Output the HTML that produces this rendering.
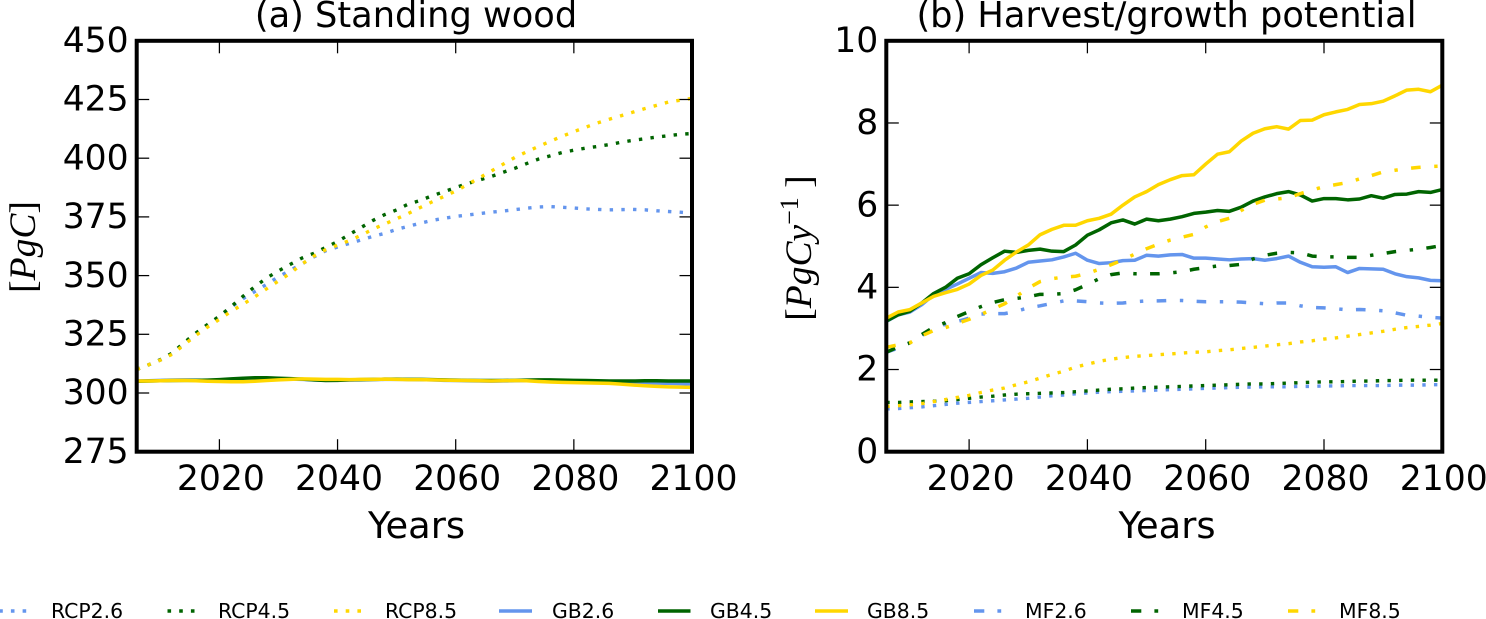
<!DOCTYPE html>
<html lang="en">
<head>
<meta charset="utf-8">
<title>Standing wood and harvest potential</title>
<style>
html,body{margin:0;padding:0;background:#fff;width:1486px;height:619px;overflow:hidden}
svg{display:block}
text{font-family:"DejaVu Sans","Liberation Sans",sans-serif;fill:#000}
.big{font-size:34.6px}
.ttl{font-size:35.2px}
.xlab{font-size:36.8px}
.leg{font-size:20.4px}
.math{font-family:"Liberation Serif",serif;font-size:37.5px}
.math .i{font-style:italic}
</style>
</head>
<body>
<svg id="chart" xmlns="http://www.w3.org/2000/svg" width="1486" height="619" viewBox="0 0 1486 619">
  <defs>
    <clipPath id="clip-a"><rect x="136.7" y="40.8" width="555.3" height="410.9"/></clipPath>
    <clipPath id="clip-b"><rect x="886.3" y="40.8" width="556" height="410.9"/></clipPath>
  </defs>
  <g id="panel-a">
    <g id="marks-a" clip-path="url(#clip-a)"></g>
    <g id="axes-a"></g>
    <text class="ttl" x="416" y="27" text-anchor="middle">(a) Standing wood</text>
    <text class="xlab" x="416.5" y="538" text-anchor="middle">Years</text>
    <text class="math" transform="translate(35,247) rotate(-90)" text-anchor="middle">[<tspan class="i">PgC</tspan>]</text>
  </g>
  <g id="panel-b">
    <g id="marks-b" clip-path="url(#clip-b)"></g>
    <g id="axes-b"></g>
    <text class="ttl" x="1166.5" y="27" text-anchor="middle">(b) Harvest/growth potential</text>
    <text class="xlab" x="1167" y="538" text-anchor="middle">Years</text>
    <text class="math" transform="translate(811,248) rotate(-90)" text-anchor="middle">[<tspan class="i">PgCy</tspan><tspan dy="-13" font-size="26">−1</tspan><tspan dy="13"> ]</tspan></text>
  </g>
  <g id="legend">
    <g><line x1="-0.8" x2="27" y1="611" y2="611" stroke="#6495ED" stroke-width="3.6" stroke-dasharray="3.6 8.1"/><text class="leg" x="51" y="618">RCP2.6</text></g>
    <g><line x1="167.5" x2="195" y1="611" y2="611" stroke="#006400" stroke-width="3.6" stroke-dasharray="3.6 8.1"/><text class="leg" x="218" y="618">RCP4.5</text></g>
    <g><line x1="334" x2="362" y1="611" y2="611" stroke="#FFD700" stroke-width="3.6" stroke-dasharray="3.6 8.1"/><text class="leg" x="385" y="618">RCP8.5</text></g>
    <g><line x1="499" x2="532" y1="611" y2="611" stroke="#6495ED" stroke-width="3.6"/><text class="leg" x="552" y="618">GB2.6</text></g>
    <g><line x1="658" x2="690.5" y1="611" y2="611" stroke="#006400" stroke-width="3.6"/><text class="leg" x="710" y="618">GB4.5</text></g>
    <g><line x1="815" x2="848" y1="611" y2="611" stroke="#FFD700" stroke-width="3.6"/><text class="leg" x="867" y="618">GB8.5</text></g>
    <g><line x1="974" x2="1001.2" y1="611" y2="611" stroke="#6495ED" stroke-width="3.6" stroke-dasharray="10.3 13.1 3.8 13"/><text class="leg" x="1025" y="618">MF2.6</text></g>
    <g><line x1="1131" x2="1158.2" y1="611" y2="611" stroke="#006400" stroke-width="3.6" stroke-dasharray="10.3 13.1 3.8 13"/><text class="leg" x="1182" y="618">MF4.5</text></g>
    <g><line x1="1288" x2="1315.2" y1="611" y2="611" stroke="#FFD700" stroke-width="3.6" stroke-dasharray="10.3 13.1 3.8 13"/><text class="leg" x="1339" y="618">MF8.5</text></g>
  </g>
</svg>
<script>
const years = [2006,2008,2010,2012,2014,2016,2018,2020,2022,2024,2026,2028,2030,2032,2034,2036,2038,2040,2042,2044,2046,2048,2050,2052,2054,2056,2058,2060,2062,2064,2066,2068,2070,2072,2074,2076,2078,2080,2082,2084,2086,2088,2090,2092,2094,2096,2098,2100];
const xTickLabels = [2020,2040,2060,2080,2100];
const yTicksA = [275,300,325,350,375,400,425,450];
const yTicksB = [0,2,4,6,8,10];

const woodRcp26 = [310,312,314,316.8,321,325,328.8,332.5,336.6,340.2,343.2,346.3,349.5,352.3,355,358,360.6,362.2,363.7,365.2,366.7,368,369.7,371,372.3,373.5,374.4,375.2,375.8,376.4,377,377.5,378.1,378.7,379.2,379.4,379.1,378.8,378.4,378.2,378,378.1,378.2,378,377.6,377.3,377,376.6];
const woodRcp45 = [310,312,314.2,317,321.4,325.5,329.2,332.7,336.8,341.2,345.3,349,352,354.8,357.5,359.5,362,364.5,367.5,370.5,373.5,376,378,380.5,382,384,385.7,387.5,389.2,390.7,392.2,394,395.7,397.7,399.6,401,402.4,403.4,404.3,405,405.8,406.8,407.6,408.3,409,409.6,410.2,410.5];
const woodRcp85 = [310,312,314,316.5,320.5,324.5,328.1,331.4,334.8,337.8,341,344.4,347.7,351,355,358.3,361,363,364.9,367.2,369.8,372,374.2,376.5,379,381.4,383.7,386,388.8,391.6,394.5,397.4,400.3,402.7,405,407.2,409.3,411.3,413.2,415,416.6,418.1,419.6,421.1,422.5,423.9,424.7,425.5];
const woodGb26 = [305.1,305.2,305.4,305.5,305.6,305.5,305.4,305.4,305.4,305.5,305.6,305.7,305.8,305.9,305.8,305.6,305.5,305.5,305.5,305.6,305.7,305.8,305.8,305.8,305.7,305.6,305.4,305.3,305.2,305.1,305,305.1,305.2,305.2,305.2,305,304.9,304.7,304.6,304.5,304.4,304.3,304.3,304.2,304.2,304.1,304,303.9];
const woodGb45 = [305,305.1,305.2,305.3,305.4,305.4,305.5,305.7,306,306.3,306.5,306.5,306.3,306.1,305.9,305.6,305.3,305.4,305.6,305.7,305.8,305.9,305.9,305.8,305.8,305.7,305.6,305.5,305.4,305.3,305.3,305.3,305.4,305.5,305.6,305.6,305.5,305.4,305.3,305.2,305.1,305.1,305.1,305.2,305.2,305.1,305.1,305.1];
const woodGb85 = [305.1,305.1,305.2,305.3,305.4,305.2,305,304.9,304.8,304.8,305,305.3,305.6,305.8,306,305.9,305.8,305.8,305.7,305.8,305.8,305.9,305.8,305.7,305.7,305.6,305.5,305.4,305.3,305.2,305.1,305.2,305.3,305.2,304.9,304.7,304.5,304.4,304.3,304.2,304.1,303.8,303.4,303.1,302.8,302.6,302.5,302.4];

const harvestRcp26 = [1.04,1.05,1.07,1.09,1.12,1.15,1.18,1.2,1.22,1.24,1.26,1.28,1.3,1.33,1.36,1.38,1.41,1.43,1.45,1.46,1.47,1.48,1.49,1.5,1.51,1.52,1.53,1.54,1.55,1.56,1.57,1.57,1.58,1.58,1.58,1.59,1.59,1.6,1.6,1.61,1.61,1.61,1.61,1.62,1.62,1.62,1.63,1.63];
const harvestRcp45 = [1.2,1.2,1.21,1.22,1.23,1.24,1.27,1.3,1.33,1.35,1.38,1.4,1.41,1.42,1.43,1.44,1.46,1.48,1.5,1.52,1.53,1.55,1.56,1.57,1.58,1.59,1.6,1.61,1.62,1.63,1.64,1.65,1.65,1.66,1.67,1.68,1.69,1.7,1.7,1.71,1.72,1.72,1.73,1.73,1.74,1.74,1.74,1.74];
const harvestRcp85 = [1.1,1.12,1.14,1.17,1.22,1.27,1.32,1.37,1.44,1.5,1.55,1.63,1.7,1.79,1.88,1.96,2.06,2.13,2.2,2.25,2.29,2.32,2.34,2.36,2.38,2.4,2.42,2.43,2.46,2.48,2.51,2.54,2.57,2.6,2.63,2.67,2.7,2.74,2.77,2.81,2.85,2.89,2.93,2.98,3.02,3.05,3.08,3.12];
const harvestGb26 = [3.17,3.33,3.4,3.58,3.82,3.95,4.08,4.22,4.36,4.34,4.38,4.47,4.61,4.64,4.67,4.74,4.83,4.66,4.58,4.6,4.65,4.66,4.78,4.76,4.79,4.8,4.71,4.71,4.69,4.67,4.69,4.7,4.66,4.7,4.76,4.61,4.5,4.49,4.5,4.36,4.46,4.45,4.44,4.33,4.26,4.23,4.17,4.16];
const harvestGb45 = [3.18,3.33,3.42,3.62,3.85,4,4.22,4.33,4.55,4.72,4.88,4.85,4.9,4.93,4.88,4.87,5.03,5.27,5.4,5.57,5.64,5.54,5.66,5.62,5.66,5.72,5.8,5.83,5.87,5.85,5.95,6.1,6.2,6.28,6.33,6.25,6.1,6.16,6.16,6.13,6.15,6.23,6.17,6.26,6.27,6.33,6.31,6.38];
const harvestGb85 = [3.25,3.4,3.46,3.62,3.78,3.87,3.95,4.08,4.29,4.42,4.66,4.86,5.03,5.28,5.41,5.51,5.51,5.62,5.68,5.78,6,6.2,6.33,6.5,6.62,6.72,6.74,7,7.24,7.3,7.56,7.75,7.86,7.91,7.85,8.06,8.07,8.2,8.27,8.33,8.45,8.47,8.53,8.66,8.8,8.82,8.76,8.92];
const harvestMf26 = [2.42,2.52,2.65,2.83,3,3.1,3.17,3.25,3.35,3.36,3.36,3.42,3.5,3.55,3.61,3.67,3.67,3.65,3.62,3.61,3.62,3.65,3.67,3.67,3.68,3.68,3.66,3.65,3.65,3.65,3.64,3.62,3.6,3.62,3.62,3.55,3.51,3.5,3.48,3.45,3.46,3.45,3.43,3.38,3.32,3.3,3.27,3.25];
const harvestMf45 = [2.42,2.55,2.65,2.85,3.03,3.14,3.29,3.41,3.53,3.63,3.7,3.73,3.77,3.83,3.83,3.85,3.94,4.07,4.21,4.31,4.35,4.33,4.33,4.33,4.35,4.38,4.44,4.48,4.52,4.53,4.56,4.69,4.78,4.83,4.85,4.84,4.76,4.74,4.74,4.73,4.73,4.78,4.82,4.87,4.9,4.93,4.97,5.02];
const harvestMf85 = [2.54,2.6,2.65,2.82,2.95,3.02,3.12,3.22,3.34,3.47,3.6,3.78,3.98,4.14,4.21,4.25,4.27,4.34,4.44,4.55,4.67,4.81,4.94,5.05,5.15,5.22,5.29,5.47,5.6,5.68,5.87,6.02,6.12,6.15,6.18,6.28,6.37,6.45,6.5,6.55,6.64,6.72,6.81,6.85,6.89,6.92,6.94,6.95];

const BLUE = '#6495ED', GREEN = '#006400', GOLD = '#FFD700';
const DOT = '3.4 8.27', DASHDOT = '9.6 13.6 3.4 13.4';
const NS = 'http://www.w3.org/2000/svg';

function makeAxes(left, right, top, bottom, yMin, yMax) {
  return {
    left: left, right: right, top: top, bottom: bottom,
    x: function (yr) { return left + (yr - 2006) / (2100 - 2006) * (right - left); },
    y: function (v) { return bottom - (v - yMin) / (yMax - yMin) * (bottom - top); }
  };
}
const axesA = makeAxes(136.7, 692, 40.8, 451.7, 275, 450);
const axesB = makeAxes(886.3, 1442.3, 40.8, 451.7, 0, 10);

function drawSeries(parent, axes, values, color, dash, width, name) {
  const p = document.createElementNS(NS, 'polyline');
  const pts = values.map(function (v, i) {
    return axes.x(years[i]).toFixed(2) + ',' + axes.y(v).toFixed(2);
  }).join(' ');
  p.setAttribute('points', pts);
  p.setAttribute('fill', 'none');
  p.setAttribute('stroke', color);
  p.setAttribute('stroke-width', width);
  p.setAttribute('stroke-linejoin', 'round');
  if (dash) p.setAttribute('stroke-dasharray', dash);
  
  
  parent.appendChild(p);
}

function drawTick(parent, x1, y1, x2, y2) {
  const t = document.createElementNS(NS, 'line');
  t.setAttribute('x1', x1);
  t.setAttribute('y1', y1);
  t.setAttribute('x2', x2);
  t.setAttribute('y2', y2);
  t.setAttribute('stroke', '#000');
  t.setAttribute('stroke-width', '1.25');
  
  
  parent.appendChild(t);
}

function drawLabel(parent, x, y, anchor, str) {
  const t = document.createElementNS(NS, 'text');
  t.setAttribute('x', x);
  t.setAttribute('y', y);
  t.setAttribute('text-anchor', anchor);
  t.setAttribute('class', 'big');
  t.textContent = str;
  
  
  parent.appendChild(t);
}

function drawAxes(parent, axes, yTicks, spineName) {
  const L = 12.5;
  xTickLabels.forEach(function (yr) {
    const x = axes.x(yr);
    drawTick(parent, x, axes.bottom, x, axes.bottom - L);
    drawTick(parent, x, axes.top, x, axes.top + L);
    drawLabel(parent, x + 1.5, 490, 'middle', String(yr));
  });
  yTicks.forEach(function (v) {
    const y = axes.y(v);
    drawTick(parent, axes.left, y, axes.left + L, y);
    drawTick(parent, axes.right, y, axes.right - L, y);
    drawLabel(parent, axes.left - 8, y + 11.2, 'end', String(v));
  });
  const r = document.createElementNS(NS, 'rect');
  r.setAttribute('x', axes.left);
  r.setAttribute('y', axes.top);
  r.setAttribute('width', axes.right - axes.left);
  r.setAttribute('height', axes.bottom - axes.top);
  r.setAttribute('fill', 'none');
  r.setAttribute('stroke', '#000');
  r.setAttribute('stroke-width', '4');
  
  
  parent.appendChild(r);
}

const marksA = document.getElementById('marks-a');
drawSeries(marksA, axesA, woodRcp26, BLUE, DOT, 3.4, 'wood-rcp26-line');
drawSeries(marksA, axesA, woodRcp45, GREEN, DOT, 3.4, 'wood-rcp45-line');
drawSeries(marksA, axesA, woodRcp85, GOLD, DOT, 3.4, 'wood-rcp85-line');
drawSeries(marksA, axesA, woodGb26, BLUE, null, 3.5, 'wood-gb26-line');
drawSeries(marksA, axesA, woodGb45, GREEN, null, 3.5, 'wood-gb45-line');
drawSeries(marksA, axesA, woodGb85, GOLD, null, 3.5, 'wood-gb85-line');
drawAxes(document.getElementById('axes-a'), axesA, yTicksA, 'standing-wood-frame');

const marksB = document.getElementById('marks-b');
drawSeries(marksB, axesB, harvestRcp26, BLUE, DOT, 3.4, 'harvest-rcp26-line');
drawSeries(marksB, axesB, harvestRcp45, GREEN, DOT, 3.4, 'harvest-rcp45-line');
drawSeries(marksB, axesB, harvestRcp85, GOLD, DOT, 3.4, 'harvest-rcp85-line');
drawSeries(marksB, axesB, harvestGb26, BLUE, null, 3.5, 'harvest-gb26-line');
drawSeries(marksB, axesB, harvestGb45, GREEN, null, 3.5, 'harvest-gb45-line');
drawSeries(marksB, axesB, harvestGb85, GOLD, null, 3.5, 'harvest-gb85-line');
drawSeries(marksB, axesB, harvestMf26, BLUE, DASHDOT, 3.5, 'harvest-mf26-line');
drawSeries(marksB, axesB, harvestMf45, GREEN, DASHDOT, 3.5, 'harvest-mf45-line');
drawSeries(marksB, axesB, harvestMf85, GOLD, DASHDOT, 3.5, 'harvest-mf85-line');
drawAxes(document.getElementById('axes-b'), axesB, yTicksB, 'harvest-potential-frame');
</script>
</body>
</html>
